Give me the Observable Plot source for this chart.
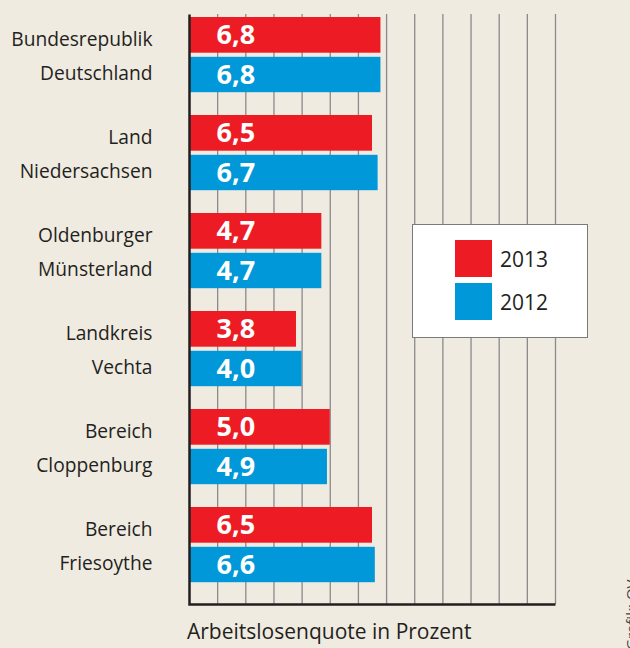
<!DOCTYPE html>
<html><head><meta charset="utf-8">
<script src="https://cdn.jsdelivr.net/npm/d3@7"></script>
<script src="https://cdn.jsdelivr.net/npm/@observablehq/plot@0.6"></script>
<style>
html,body{margin:0;padding:0;background:#f0ebe1;}
body{width:630px;height:648px;overflow:hidden;position:relative;font-family:"Open Sans",sans-serif;color:#231f20;}
#chart{position:absolute;left:0;top:0;}
#legend{position:absolute;left:412px;top:224px;width:174px;height:112px;background:#fff;border:1.5px solid #7a7a7a;}
.sw{position:absolute;width:37px;height:37px;}
.lt{position:absolute;font-size:21px;line-height:21px;color:#231f20;}
.caption{position:absolute;left:187px;top:621px;font-size:21px;line-height:21px;white-space:nowrap;}
.credit{position:absolute;left:0;top:0;transform-origin:0 0;transform:translate(624px,650px) rotate(-90deg);font-size:15px;line-height:15px;white-space:nowrap;color:#444;}
</style></head><body>
<div id="chart"></div>
<div id="legend"></div>
<div class="caption">Arbeitslosenquote in Prozent</div>
<div class="credit">Grafik: OV</div>
<script>
const regions = ["Bundesrepublik Deutschland", "Land Niedersachsen", "Oldenburger Münsterland", "Landkreis Vechta", "Bereich Cloppenburg", "Bereich Friesoythe"];
const regionLabels = ["Bundesrepublik\nDeutschland", "Land\nNiedersachsen", "Oldenburger\nMünsterland", "Landkreis\nVechta", "Bereich\nCloppenburg", "Bereich\nFriesoythe"];
const values2013 = [6.8, 6.5, 4.7, 3.8, 5.0, 6.5];
const values2012 = [6.8, 6.7, 4.7, 4.0, 4.9, 6.6];
const years = ["2013", "2012"];
const yearColors = ["#ed1c24", "#0098d8"];
const gridValues = [1, 2, 3, 4, 5, 6, 7, 8, 9, 10, 11, 12, 13];

const fmt = v => v.toFixed(1).replace(".", ",");
const rows13 = regions.map((r, i) => ({region: r, value: values2013[i]}));
const rows12 = regions.map((r, i) => ({region: r, value: values2012[i]}));

const chart = Plot.plot({
  width: 630,
  height: 612,
  marginLeft: 189,
  marginRight: 75,
  marginTop: 14,
  marginBottom: 8,
  style: {background: "transparent", fontFamily: "Open Sans, sans-serif"},
  x: {domain: [0, 13], axis: null},
  y: {domain: regions, range: [14, 607], padding: 0, axis: null},
  marks: [
    Plot.gridX(gridValues, {stroke: "#8a8a8a", strokeOpacity: 1, strokeWidth: 1.3}),
    Plot.barX(rows13, {x: "value", y: "region", fill: yearColors[0], insetTop: 0, insetBottom: 62.3}),
    Plot.barX(rows12, {x: "value", y: "region", fill: yearColors[1], insetTop: 39.8, insetBottom: 22.8}),
    Plot.text(rows13, {x: 0, y: "region", text: d => fmt(d.value), dx: 27, dy: -31, textAnchor: "start", fill: "white", fontSize: 27, fontWeight: "bold"}),
    Plot.text(rows12, {x: 0, y: "region", text: d => fmt(d.value), dx: 27, dy: 8.6, textAnchor: "start", fill: "white", fontSize: 27, fontWeight: "bold"}),
    Plot.text(regions, {x: 0, y: d => d, text: (d, i) => regionLabels[i], dx: -37, dy: -14, textAnchor: "end", lineHeight: 1.75, fontSize: 19.2, fill: "#231f20"}),
    Plot.frame({stroke: "#231f20", strokeWidth: 2.5, strokeDasharray: "0 956 956"})
  ]
});
document.getElementById("chart").appendChild(chart);

const legend = document.getElementById("legend");
years.forEach((y, i) => {
  const sw = document.createElement("div");
  sw.className = "sw";
  sw.style.left = "42px";
  sw.style.top = (15 + i * 43) + "px";
  sw.style.background = yearColors[i];
  legend.appendChild(sw);
  const t = document.createElement("div");
  t.className = "lt";
  t.style.left = "87px";
  t.style.top = (24 + i * 43) + "px";
  t.textContent = y;
  legend.appendChild(t);
});
</script>
</body></html>
